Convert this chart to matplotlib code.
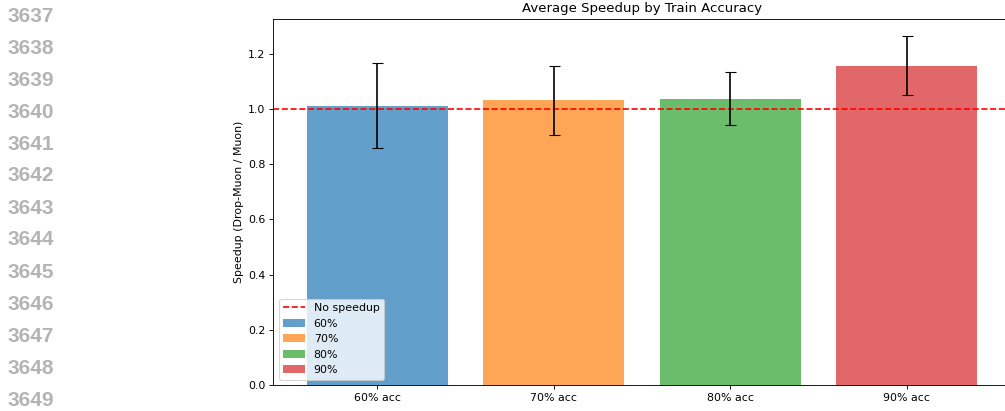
import matplotlib
matplotlib.use("Agg")
import matplotlib.pyplot as plt
import numpy as np

# speedup per train-accuracy target (Drop-Muon / Muon)
labels = ["60% acc", "70% acc", "80% acc", "90% acc"]
legend_names = ["60%", "70%", "80%", "90%"]
speedup_mean = [1.012, 1.032, 1.037, 1.156]
speedup_std = [0.153, 0.125, 0.096, 0.107]
colors = ["tab:blue", "tab:orange", "tab:green", "tab:red"]

# editor gutter line numbers
line_numbers = list(range(3637, 3650))

DPI = 79.2
W, H = 1005, 411
fig = plt.figure(figsize=(W / DPI, H / DPI), dpi=DPI)

ax = fig.add_axes([273 / W, (H - 385) / H, 738 / W, 366 / H])

x = np.arange(len(labels))
ax.axhline(1.0, color="red", linestyle="--", label="No speedup")
for i in range(len(labels)):
    ax.bar(x[i], speedup_mean[i], width=0.8, color=colors[i], alpha=0.7,
           label=legend_names[i])
ax.errorbar(x, speedup_mean, yerr=speedup_std, fmt="none", ecolor="black",
            capsize=5)

ax.set_xticks(x)
ax.set_xticklabels(labels)
ax.set_ylabel("Speedup (Drop-Muon / Muon)")
ax.set_title("Average Speedup by Train Accuracy")
ax.legend(loc="lower left")

for k, n in enumerate(line_numbers):
    fig.text(8 / W, 1 - (16 + 32 * k) / H, str(n), fontsize=19,
             family="Liberation Sans", weight="bold", color="#b4b4b4",
             va="center", ha="left")

fig.savefig("out.png", dpi=DPI)
